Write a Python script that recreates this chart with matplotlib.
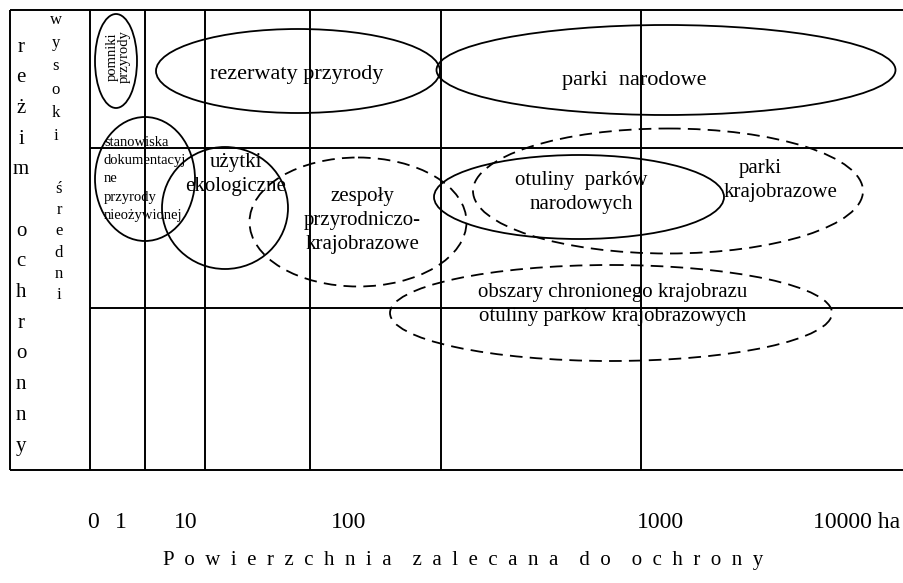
"""Schemat: rezim ochronny vs powierzchnia zalecana do ochrony (formy ochrony przyrody)."""

import matplotlib
matplotlib.use("Agg")
import matplotlib.pyplot as plt
from matplotlib.patches import Ellipse

plt.rcParams["font.family"] = ["Liberation Serif", "DejaVu Serif"]

# siatka tabeli (px, os y w dol)
col_edges = [10, 90, 145, 205, 310, 441, 641]
row_edges = [10, 148, 308, 470]
right_edge = 904

# formy ochrony: (srodek x, srodek y, szerokosc, wysokosc), linia przerywana = forma obszarowa
forms = ["pomniki", "rezerwaty", "parki_nar", "stanowiska", "uzytki",
         "zespoly", "otuliny_pn", "parki_kraj", "obszary"]
cx = [116, 298, 666, 145, 225, 358, 579, 668, 611]
cy = [61, 71, 70, 179, 208, 222, 197, 191, 313]
width = [42, 284, 459, 100, 126, 217, 290, 390, 442]
height = [94, 84, 90, 124, 122, 129, 84, 125, 96]
dashed = [False, False, False, False, False, True, False, True, True]

# etykiety osi
tick_labels = ["0", "1", "10", "100", "1000", "10000 ha"]
tick_x = [93, 121, 186, 349, 660, 857]
x_title = "Powierzchnia zalecana do ochrony"
y_title = "reżim ochronny"
level_high = "wysoki"
level_mid = "średni"

fig = plt.figure(figsize=(9.04, 5.83), dpi=100)
ax = fig.add_axes([0, 0, 1, 1])
ax.set_xlim(0, 904)
ax.set_ylim(583, 0)
ax.axis("off")

lw = 1.4
# ramka i linie siatki
ax.vlines(col_edges, row_edges[0], row_edges[-1], color="black", lw=lw)
ax.hlines([row_edges[0], row_edges[-1]], col_edges[0], right_edge, color="black", lw=lw)
ax.hlines(row_edges[1:-1], col_edges[1], right_edge, color="black", lw=lw)

for x, y, w, h, d in zip(cx, cy, width, height, dashed):
    ax.add_patch(Ellipse((x, y), w, h, fill=False, ec="black", lw=1.3,
                         ls=(0, (7, 4)) if d else "-"))


def put_lines(x, y0, lines, size, step, ha="center"):
    for i, s in enumerate(lines):
        ax.text(x, y0 + i * step, s, fontsize=size, ha=ha, va="center")


big = 15
ax.text(118, 57, "pomniki\nprzyrody", fontsize=10.5, rotation=90, ha="center",
        va="center", linespacing=0.95)
put_lines(297, 74, ["rezerwaty przyrody"], 16, 0)
put_lines(634, 80, ["parki  narodowe"], 16, 0)
put_lines(104, 142, ["stanowiska", "dokumentacyj", "ne", "przyrody", "nieożywionej"],
          10.5, 18.5, ha="left")
put_lines(236, 162, ["użytki", "ekologiczne"], big, 24)
put_lines(362, 197, ["zespoły", "przyrodniczo-", "krajobrazowe"], big, 24)
put_lines(581, 181, ["otuliny  parków", "narodowych"], big, 24)
put_lines(760, 169, ["parki"], big, 0)
put_lines(780, 193, ["krajobrazowe"], big, 0)
put_lines(613, 293, ["obszary chronionego krajobrazu",
                     "otuliny parków krajobrazowych"], big, 24)

# opis osi pionowej - litery jedna pod druga
for i, ch in enumerate(y_title):
    ax.text(21, 47 + i * 30.7, ch, fontsize=15, ha="center", va="center")
for i, ch in enumerate(level_high):
    ax.text(56, 20 + i * 23.2, ch, fontsize=12, ha="center", va="center")
for i, ch in enumerate(level_mid):
    ax.text(59, 189 + i * 21.2, ch, fontsize=12, ha="center", va="center")

# opis osi poziomej
for x, s in zip(tick_x, tick_labels):
    ax.text(x, 523, s, fontsize=17, ha="center", va="center")
spaced = "    ".join("  ".join(word) for word in x_title.split())
ax.text(463, 561, spaced, fontsize=15, ha="center", va="center")

fig.savefig("out.png", dpi=100)
